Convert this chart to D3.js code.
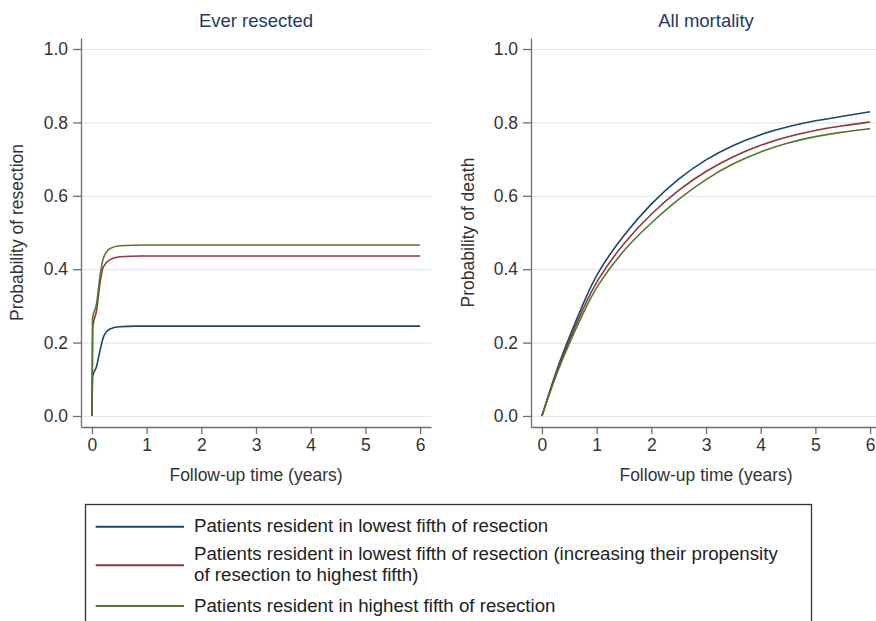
<!DOCTYPE html>
<html>
<head>
<meta charset="utf-8">
<script src="https://cdn.jsdelivr.net/npm/d3@7"></script>
<style>
  body { margin: 0; background: #fff; }
  svg { font-family: "Liberation Sans", Arial, Helvetica, sans-serif; }
  .tick text { fill: #333; font-size: 17.5px; }
  .axis path, .axis line { stroke: #6e6e6e; stroke-width: 1.3; }
  .grid line { stroke: #e2eaee; stroke-width: 1.2; }
  .grid path { display: none; }
</style>
</head>
<body>
<svg id="svg" width="876" height="621"></svg>
<script>
// ever resected: [years, probability]
var resectLowest = [[0, 0], [0.015, 0.11], [0.08, 0.133], [0.15, 0.18], [0.21, 0.215], [0.33, 0.237], [0.5, 0.243], [0.8, 0.245], [6, 0.245]];
var resectBoosted = [[0, 0], [0.015, 0.243], [0.085, 0.288], [0.146, 0.361], [0.207, 0.406], [0.33, 0.426], [0.51, 0.434], [0.9, 0.436], [6, 0.436]];
var resectHighest = [[0, 0], [0.01, 0.265], [0.085, 0.306], [0.146, 0.379], [0.207, 0.429], [0.33, 0.456], [0.51, 0.464], [1, 0.466], [6, 0.466]];

// all mortality
var mortTime = [0, 0.25, 0.5, 0.75, 1, 1.5, 2, 2.5, 3, 3.5, 4, 4.5, 5, 5.5, 6];
var mortLowest = [0, 0.12, 0.215, 0.305, 0.39, 0.495, 0.58, 0.648, 0.7, 0.739, 0.768, 0.789, 0.805, 0.817, 0.829];
var mortBoosted = [0, 0.115, 0.207, 0.292, 0.37, 0.474, 0.552, 0.617, 0.668, 0.708, 0.739, 0.762, 0.779, 0.791, 0.801];
var mortHighest = [0, 0.11, 0.198, 0.28, 0.355, 0.455, 0.527, 0.592, 0.646, 0.689, 0.721, 0.745, 0.762, 0.774, 0.783];

var xTicks = [0, 1, 2, 3, 4, 5, 6];
var yTicks = [0, 0.2, 0.4, 0.6, 0.8, 1.0];
var legendLabels = [
  ["Patients resident in lowest fifth of resection"],
  ["Patients resident in lowest fifth of resection (increasing their propensity", "of resection to highest fifth)"],
  ["Patients resident in highest fifth of resection"]
];
var colors = ["#1a476f", "#90353b", "#55752f"];

var svg = d3.select("#svg");
var plotTop = 38, plotBottom = 427, plotW = 350;

function zipMort(vals) {
  return mortTime.map(function (t, i) { return [t, vals[i]]; });
}

var panels = [
  { left: 81, title: "Ever resected", ylab: "Probability of resection", ylabX: 23,
    curve: d3.curveMonotoneX,
    series: [resectLowest, resectBoosted, resectHighest] },
  { left: 531, title: "All mortality", ylab: "Probability of death", ylabX: 474,
    curve: d3.curveBasis,
    series: [zipMort(mortLowest), zipMort(mortBoosted), zipMort(mortHighest)] }
];

panels.forEach(function (p) {
  var x = d3.scaleLinear().domain([-0.2, 6.2]).range([p.left, p.left + plotW]);
  var y = d3.scaleLinear().domain([-0.03, 1.03]).range([plotBottom, plotTop]);

  // grid
  svg.append("g")
    .attr("class", "grid")
    .attr("transform", "translate(" + p.left + ",0)")
    .call(d3.axisLeft(y).tickValues(yTicks).tickSize(-plotW).tickFormat(""));

  // y axis
  svg.append("g")
    .attr("class", "axis")
    .attr("transform", "translate(" + p.left + ",0)")
    .call(d3.axisLeft(y).tickValues(yTicks).tickFormat(d3.format(".1f"))
      .tickSize(8).tickSizeOuter(0).tickPadding(5));

  // x axis
  svg.append("g")
    .attr("class", "axis")
    .attr("transform", "translate(0," + plotBottom + ")")
    .call(d3.axisBottom(x).tickValues(xTicks).tickFormat(d3.format("d"))
      .tickSize(7).tickSizeOuter(0).tickPadding(5));

  var line = d3.line()
    .x(function (d) { return x(d[0]); })
    .y(function (d) { return y(d[1]); })
    .curve(p.curve);

  svg.append("g").selectAll("path")
    .data(p.series)
    .enter()
    .append("path")
    .attr("d", line)
    .attr("fill", "none")
    .attr("stroke", function (d, i) { return colors[i]; })
    .attr("stroke-width", 1.6);

  var cx = p.left + plotW / 2;
  svg.append("text")
    .attr("x", cx).attr("y", 27)
    .attr("text-anchor", "middle")
    .attr("fill", "#1f3a63")
    .style("font-size", "18.5px")
    .text(p.title);

  svg.append("text")
    .attr("x", cx).attr("y", 481)
    .attr("text-anchor", "middle")
    .attr("fill", "#333")
    .style("font-size", "17.5px")
    .text("Follow-up time (years)");

  svg.append("text")
    .attr("transform", "translate(" + p.ylabX + "," + (plotTop + plotBottom) / 2 + ") rotate(-90)")
    .attr("text-anchor", "middle")
    .attr("fill", "#333")
    .style("font-size", "17.5px")
    .text(p.ylab);
});

// legend
svg.append("rect")
  .attr("x", 85.5).attr("y", 504.5)
  .attr("width", 726).attr("height", 130)
  .attr("fill", "#fff")
  .attr("stroke", "#333")
  .attr("stroke-width", 1.3);

var legendLineY = [526.7, 565.3, 606];
var legendBase = [532.3, 560.3, 611.7];
var leg = svg.append("g").selectAll("g")
  .data(legendLabels)
  .enter()
  .append("g");

leg.append("line")
  .attr("x1", 95.7).attr("x2", 184)
  .attr("y1", function (d, i) { return legendLineY[i]; })
  .attr("y2", function (d, i) { return legendLineY[i]; })
  .attr("stroke", function (d, i) { return colors[i]; })
  .attr("stroke-width", 2);

leg.append("text")
  .attr("x", 194)
  .attr("y", function (d, i) { return legendBase[i]; })
  .attr("fill", "#222")
  .style("font-size", "18.7px")
  .selectAll("tspan")
  .data(function (d) { return d; })
  .enter()
  .append("tspan")
  .attr("x", 194)
  .attr("dy", function (d, i) { return i === 0 ? 0 : 20.7; })
  .text(function (d) { return d; });
</script>
</body>
</html>
